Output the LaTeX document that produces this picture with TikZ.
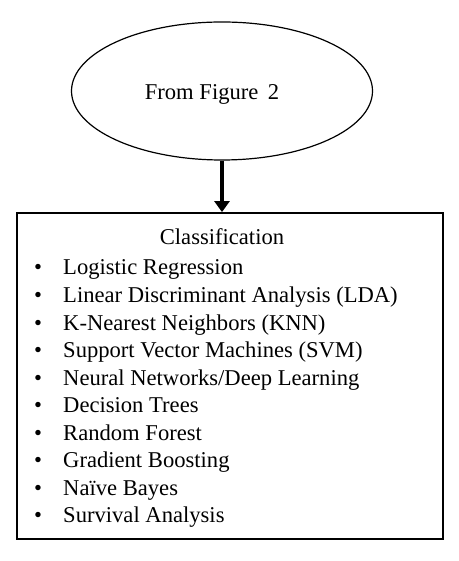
\documentclass[tikz,border=0pt]{standalone}
\usepackage{fontspec}
\setmainfont{Liberation Serif}
\usetikzlibrary{shapes.geometric,arrows.meta}
\begin{document}
\begin{tikzpicture}[x=1pt,y=1pt,
  item/.style={anchor=base west,inner sep=0pt,font=\fontsize{22.6}{24}\selectfont},
  bul/.style={anchor=base,inner sep=0pt,font=\fontsize{22.6}{24}\selectfont}]
\useasboundingbox (0,0) rectangle (458,561);
\node[ellipse,draw,line width=1.2pt,minimum width=301pt,minimum height=138pt,inner sep=0pt] (src) at (222,470) {};
\node[anchor=base,inner sep=0pt,font=\fontsize{22.6}{24}\selectfont] (srct) at (212,461) {From Figure\, 2};
\node[draw,line width=1.8pt,minimum width=426pt,minimum height=326pt,inner sep=0pt] (box) at (230,185) {};
\coordinate (tip) at (src.south |- box.north);
\draw[line width=3.8pt,-{Triangle[width=15pt,length=11pt]}] (src.south) -- (tip);
\node[anchor=base,inner sep=0pt,font=\fontsize{22.6}{24}\selectfont] (title) at (222,316) {Classification};
\foreach \t [count=\i] in {Logistic Regression,Linear Discriminant Analysis (LDA),K-Nearest Neighbors (KNN),Support Vector Machines (SVM),Neural Networks/Deep Learning,Decision Trees,Random Forest,Gradient Boosting,Naïve Bayes,Survival Analysis}{
  \node[bul] (b\i) at (38,{286-(\i-1)*27.55}) {•};
  \node[item] (t\i) at (63,{286-(\i-1)*27.55}) {\t};
}
\end{tikzpicture}
\end{document}
